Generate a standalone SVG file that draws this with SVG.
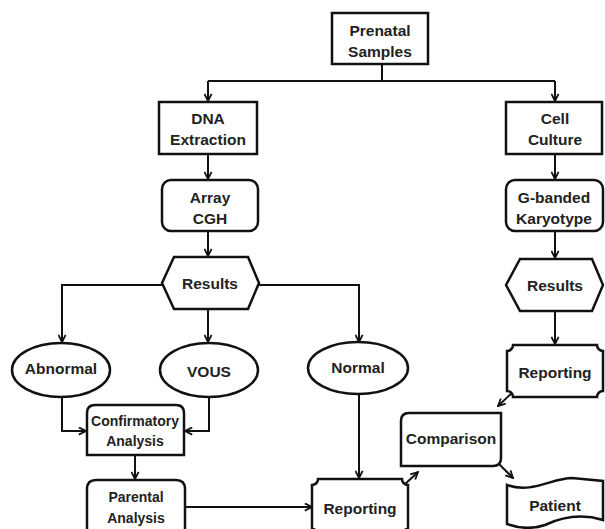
<svg xmlns="http://www.w3.org/2000/svg" width="605" height="529" viewBox="0 0 605 529">
<defs>
<marker id="ah" viewBox="0 0 10 10" refX="9" refY="5" markerWidth="9" markerHeight="9" markerUnits="userSpaceOnUse" orient="auto">
<path d="M1,1 L9,5 L1,9" fill="none" stroke="#111" stroke-width="2"/>
</marker>
<style>
.s{fill:#fff;stroke:#111;stroke-width:2.5}
.c{fill:none;stroke:#111;stroke-width:2}
.t{font-family:"Liberation Sans",Arial,sans-serif;font-weight:bold;font-size:15.5px;fill:#222;text-anchor:middle;dominant-baseline:central}
.sm{font-size:14px}
</style>
</defs>
<rect width="605" height="529" fill="#fff"/>
<g id="connectors">
<path class="c" d="M382,64 V81"/>
<path class="c" d="M208,81 H555"/>
<path class="c" d="M208,81 V101" marker-end="url(#ah)"/>
<path class="c" d="M555,81 V101" marker-end="url(#ah)"/>
<path class="c" d="M208,154 V179" marker-end="url(#ah)"/>
<path class="c" d="M555,154 V179" marker-end="url(#ah)"/>
<path class="c" d="M208,231 V256" marker-end="url(#ah)"/>
<path class="c" d="M555,231 V258" marker-end="url(#ah)"/>
<path class="c" d="M162,285 H62 V342" marker-end="url(#ah)"/>
<path class="c" d="M208,309 V342" marker-end="url(#ah)"/>
<path class="c" d="M259,285 H359 V342" marker-end="url(#ah)"/>
<path class="c" d="M555,311 V344" marker-end="url(#ah)"/>
<path class="c" d="M62,397 V431 H86" marker-end="url(#ah)"/>
<path class="c" d="M209,397 V431 H185" marker-end="url(#ah)"/>
<path class="c" d="M135,455 V479" marker-end="url(#ah)"/>
<path class="c" d="M185,507 H312" marker-end="url(#ah)"/>
<path class="c" d="M359,395 V478" marker-end="url(#ah)"/>
<path class="c" d="M403,486 L418,472" marker-end="url(#ah)"/>
<path class="c" d="M514,391 L498,406" marker-end="url(#ah)"/>
<path class="c" d="M499,464 L513,478" marker-end="url(#ah)"/>
</g>
<g id="prenatal">
<rect class="s" x="332" y="13" width="96" height="51"/>
<text class="t" x="380" y="30">Prenatal</text>
<text class="t" x="380" y="51">Samples</text>
</g>
<g id="dna">
<rect class="s" x="159" y="102" width="98" height="52"/>
<text class="t" x="208" y="118">DNA</text>
<text class="t" x="208" y="139">Extraction</text>
</g>
<g id="cell">
<rect class="s" x="506" y="102" width="96" height="52"/>
<text class="t" x="555" y="118">Cell</text>
<text class="t" x="555" y="139">Culture</text>
</g>
<g id="array">
<rect class="s" x="162" y="180" width="96" height="51" rx="9"/>
<text class="t" x="210" y="197">Array</text>
<text class="t" x="210" y="218">CGH</text>
</g>
<g id="gbanded">
<rect class="s" x="506" y="180" width="97" height="51" rx="9"/>
<text class="t" x="554" y="197">G-banded</text>
<text class="t" x="554" y="218">Karyotype</text>
</g>
<g id="results1">
<path class="s" d="M162,283 L174,257 L248,257 L259,283 L248,309 L174,309 Z"/>
<text class="t" x="210" y="283">Results</text>
</g>
<g id="results2">
<path class="s" d="M506,285 L520,259 L592,259 L603,285 L592,311 L520,311 Z"/>
<text class="t" x="555" y="285">Results</text>
</g>
<g id="abnormal">
<ellipse class="s" cx="61" cy="370" rx="49" ry="27"/>
<text class="t" x="61" y="368">Abnormal</text>
</g>
<g id="vous">
<ellipse class="s" cx="209" cy="370" rx="49" ry="27"/>
<text class="t" x="209" y="371">VOUS</text>
</g>
<g id="normal">
<ellipse class="s" cx="358" cy="368" rx="50" ry="26"/>
<text class="t" x="358" y="367">Normal</text>
</g>
<g id="reporting2">
<path class="s" d="M513,345 L597,345 A6,6 0 0 0 603,351 L603,391 A6,6 0 0 0 597,397 L513,397 A6,6 0 0 0 507,391 L507,351 A6,6 0 0 0 513,345 Z"/>
<text class="t" x="555" y="372">Reporting</text>
</g>
<g id="confirmatory">
<path class="s" d="M95,405 L176,405 Q184,405 184,413 L184,455 L87,455 L87,413 Q87,405 95,405 Z"/>
<text class="t sm" x="135" y="421">Confirmatory</text>
<text class="t sm" x="135" y="441">Analysis</text>
</g>
<g id="comparison">
<path class="s" d="M409,413 L501,413 L501,458 Q501,466 493,466 L401,466 L401,421 Q401,413 409,413 Z"/>
<text class="t" x="451" y="438">Comparison</text>
</g>
<g id="parental">
<path class="s" d="M96,480 L176,480 Q185,480 185,489 L185,540 L87,540 L87,489 Q87,480 96,480 Z"/>
<text class="t sm" x="136" y="497">Parental</text>
<text class="t sm" x="136" y="518">Analysis</text>
</g>
<g id="reporting1">
<path class="s" d="M318,479 L402,479 A6,6 0 0 0 408,485 L408,529 A6,6 0 0 0 402,535 L318,535 A6,6 0 0 0 312,529 L312,485 A6,6 0 0 0 318,479 Z"/>
<text class="t" x="360" y="508">Reporting</text>
</g>
<g id="patient">
<path class="s" d="M507,485 C532,494 552,478 572,478 L603,481 L603,520 C580,513 560,518 545,525 C530,530 518,528 507,524 Z"/>
<text class="t" x="555" y="505">Patient</text>
</g>
</svg>
